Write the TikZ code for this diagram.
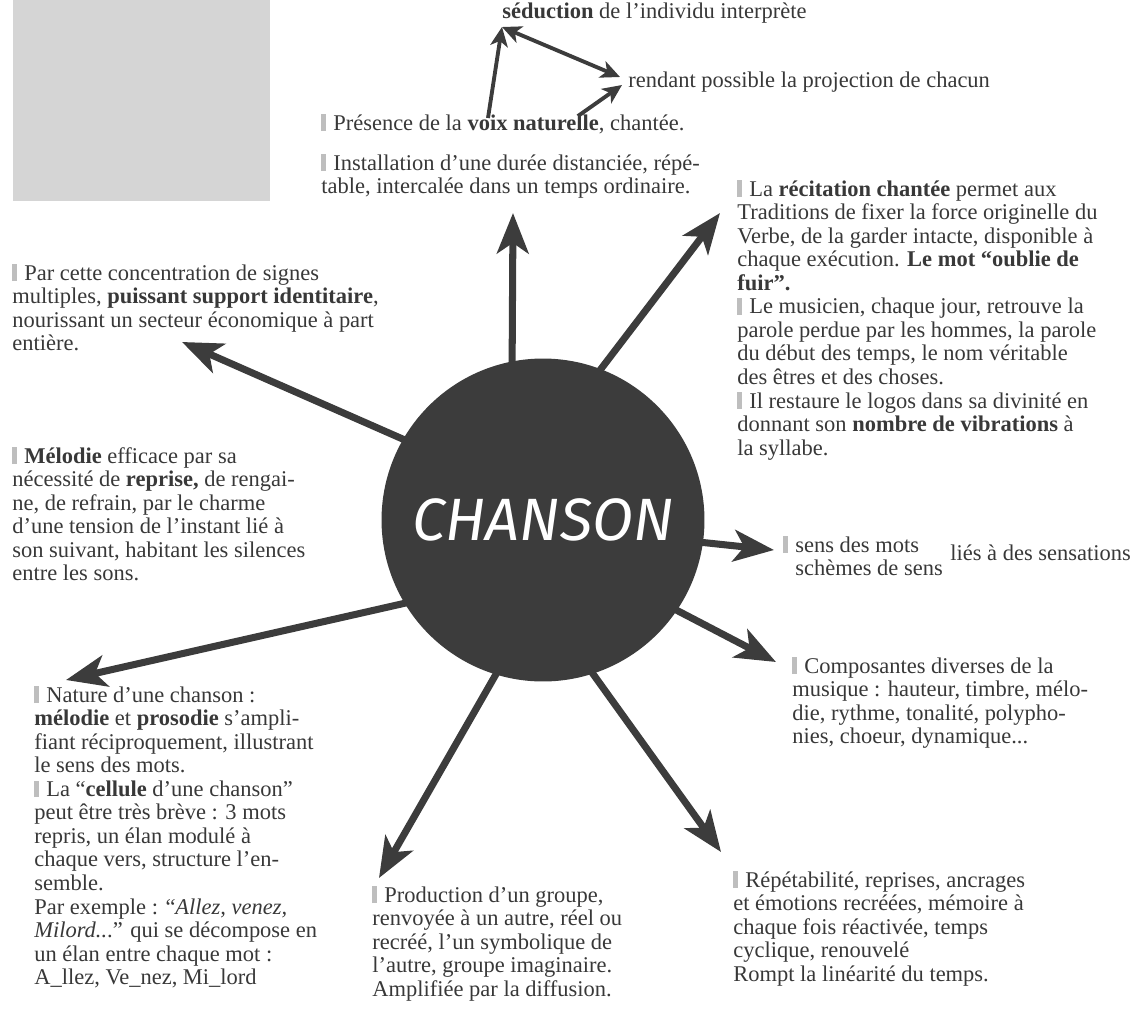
\documentclass[tikz,border=0pt]{standalone}
\usepackage{fontspec}
\setmainfont{Liberation Serif}
\newfontfamily\titrefont{Fira Sans}
\usetikzlibrary{arrows.meta}
\definecolor{gris}{HTML}{3C3C3C}
\definecolor{fond}{HTML}{D5D5D5}
\definecolor{puce}{HTML}{BEBEBE}
\definecolor{texte}{HTML}{383838}
\newcommand{\puce}{\textcolor{puce}{\rule[-0.5pt]{2.8pt}{9.5pt}}\hspace{4pt}}
\begin{document}
\begin{tikzpicture}[x=0.02cm, y=-0.02cm,
  bloc/.style={anchor=north west, inner sep=0pt, align=left, text=texte, font=\fontsize{12.8}{13.4}\selectfont},
  fleche/.style={draw=gris, line width=4pt, -{Stealth[length=23pt,width=18pt,inset=6pt]}, shorten <=-8pt},
  petite/.style={draw=gris, line width=2.2pt, -{Stealth[length=11pt,width=10pt,inset=3pt]}}]
\useasboundingbox (0,0) rectangle (1133,1008);
\fill[fond] (13,0) rectangle (270,201);
\node[circle, fill=gris, minimum size=6.46cm, inner sep=0pt] (chanson) at (543,520) {\titrefont\itshape\fontsize{34}{34}\selectfont\color{white}CHANSON};
\node[bloc] (seduction) at (502,3) {\textbf{séduction} de l'individu interprète};
\node[bloc] (rendant) at (628,72) {rendant possible la projection de chacun};
\node[bloc] (presence) at (321,114) {\puce Présence de la \textbf{voix naturelle}, chantée.};
\node[bloc] (installation) at (321,154) {\puce Installation d'une durée distanciée, répé-\\table, intercalée dans un temps ordinaire.};
\node[bloc] (recitation) at (737,180) {\puce La \textbf{récitation chantée} permet aux\\
Traditions de fixer la force originelle du\\
Verbe, de la garder intacte, disponible à\\
chaque exécution. \textbf{Le mot “oublie de}\\
\textbf{fuir”.}\\
\puce Le musicien, chaque jour, retrouve la\\
parole perdue par les hommes, la parole\\
du début des temps, le nom véritable\\
des êtres et des choses.\\
\puce Il restaure le logos dans sa divinité en\\
donnant son \textbf{nombre de vibrations} à\\
la syllabe.};
\node[bloc] (parcette) at (12,264) {\puce Par cette concentration de signes\\
multiples, \textbf{puissant support identitaire},\\
nourissant un secteur économique à part\\
entière.};
\node[bloc] (melodie) at (12,447) {\puce \textbf{Mélodie} efficace par sa\\
nécessité de \textbf{reprise,} de rengai-\\
ne, de refrain, par le charme\\
d'une tension de l'instant lié à\\
son suivant, habitant les silences\\
entre les sons.};
\node[bloc] (sens) at (795,536) {\llap{\puce}sens des mots\\schèmes de sens};
\node[bloc] (lies) at (950,545) {liés à des sensations};
\node[bloc] (composantes) at (792,657) {\puce Composantes diverses de la\\
musique : hauteur, timbre, mélo-\\
die, rythme, tonalité, polypho-\\
nies, choeur, dynamique...};
\node[bloc] (nature) at (34,686) {\puce Nature d'une chanson :\\
\textbf{mélodie} et \textbf{prosodie} s'ampli-\\
fiant réciproquement, illustrant\\
le sens des mots.\\
\puce La “\textbf{cellule} d'une chanson”\\
peut être très brève : 3 mots\\
repris, un élan modulé à\\
chaque vers, structure l'en-\\
semble.\\
Par exemple : “\textit{Allez, venez,}\\
\textit{Milord..}.” qui se décompose en\\
un élan entre chaque mot :\\
A\_llez, Ve\_nez, Mi\_lord};
\node[bloc] (production) at (372,886) {\puce Production d'un groupe,\\
renvoyée à un autre, réel ou\\
recréé, l'un symbolique de\\
l'autre, groupe imaginaire.\\
Amplifiée par la diffusion.};
\node[bloc] (repetabilite) at (733,871) {\puce Répétabilité, reprises, ancrages\\
et émotions recréées, mémoire à\\
chaque fois réactivée, temps\\
cyclique, renouvelé\\
Rompt la linéarité du temps.};
\coordinate (voix) at (488,118);
\coordinate (charme) at (502,27);
\coordinate (projection) at (620,77);
\coordinate (chantee) at (578,116);
\coordinate (projection2) at (622,85);
\draw[petite] (voix) -- (charme);
\draw[petite, {Stealth[length=11pt,width=10pt,inset=3pt]}-{Stealth[length=11pt,width=10pt,inset=3pt]}] (charme) -- (projection);
\draw[petite] (chantee) -- (projection2);
\coordinate (haut) at (513,213);
\coordinate (hautdroite) at (720,213);
\coordinate (hautgauche) at (182,342);
\coordinate (droite) at (774,550);
\coordinate (basdroite) at (776,662);
\coordinate (bas1) at (721,852);
\coordinate (bas2) at (379,878);
\coordinate (gauche) at (66,680);
\draw[fleche] (chanson.101) -- (haut);
\draw[fleche] (chanson.69) -- (hautdroite);
\draw[fleche] (chanson.150) -- (hautgauche);
\draw[fleche] (chanson.-8) -- (droite);
\draw[fleche] (chanson.-34) -- (basdroite);
\draw[fleche] (chanson.-72) -- (bas1);
\draw[fleche] (chanson.253) -- (bas2);
\draw[fleche] (chanson.211) -- (gauche);
\end{tikzpicture}
\end{document}
